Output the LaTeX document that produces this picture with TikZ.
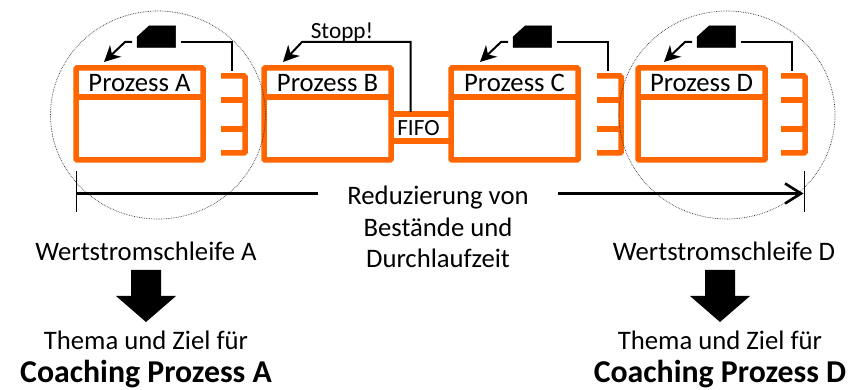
\documentclass[tikz,border=0pt]{standalone}
\usepackage{fontspec}
\setmainfont{Carlito}
\usetikzlibrary{arrows.meta, positioning, shapes.geometric}
\definecolor{cOrange}{RGB}{255,102,0}
\tikzset{
	prozess/.style ={rectangle, draw=cOrange, line width=5.5pt, rounded corners=1pt, minimum width=127pt, minimum height=92pt, fill=white},
	trenner/.style ={draw=cOrange, line width=5.5pt},
	kamm/.style    ={draw=cOrange, line width=5.5pt, rounded corners=1pt},
	karte/.style   ={fill=black, draw=black, line width=0.5pt},
	info/.style    ={line width=2pt},
	infopfeil/.style={line width=2pt, -{Stealth[length=16pt, width=16pt, inset=5pt]}},
	mass/.style    ={line width=2.2pt},
	tick/.style    ={line width=1pt},
	schleife/.style={ellipse, draw=black!80, densely dotted, line width=0.7pt, inner sep=0pt},
	blockpfeil/.style={fill=black, draw=none},
	label/.style   ={font=\fontsize{26.7}{31.5}\selectfont, inner sep=0pt, align=center},
	klein/.style   ={font=\fontsize{23.2}{26}\selectfont, inner sep=0pt},
	fett/.style    ={font=\fontsize{31.8}{36}\selectfont\bfseries, inner sep=0pt},
}
\begin{document}
\begin{tikzpicture}[x=1pt, y=-1pt]
	\useasboundingbox (0,0) rectangle (860,390);
	% Prozesse
	\foreach \n/\x/\t in {a/76/Prozess A, b/264/Prozess B, c/451/Prozess C, d/638/Prozess D} {
		\node[prozess] (box\n) at (\x+63.5,114) {};
		\draw[trenner] (\x,97) -- (\x+127,97);
		\node[label] (titel\n) at (\x+63.5,83) {\t};
	}
	% Kaemme
	\foreach \n/\x in {a/221, c/597, d/781} {
		\draw[kamm] (\x,76) -- (\x+24,76) -- (\x+24,153) -- (\x,153);
		\draw[trenner] (\x,100) -- (\x+24,100) (\x,129) -- (\x+24,129);
		\coordinate (kamm\n) at (\x+11,71);
	}
	% Kanban-Karten
	\foreach \n/\x in {a/137, c/513, d/697} {
		\draw[karte] (\x,47.5) -- (\x,37) -- (\x+12,26) -- (\x+38.5,26) -- (\x+38.5,47.5) -- cycle;
		\coordinate (ecke\n) at (\x+44,42);
		\coordinate (start\n) at (\x-5,42);
		\coordinate (zwischen\n) at (\x-12,42);
		\coordinate (ziel\n) at (\x-33,62);
		\draw[info] (kamm\n) |- (ecke\n);
		\draw[infopfeil] (start\n) -- (zwischen\n) -- (ziel\n);
	}
	% FIFO
	\node[klein] (fifo) at (418.5,128) {FIFO};
	\draw[trenner] (390,114) -- (451,114) (390,141) -- (451,141);
	\node[klein] (stopp) at (342,33) {Stopp!};
	\coordinate (fifooben) at (410.5,112);
	\coordinate (stoppknick) at (302,42);
	\coordinate (stoppziel) at (283,62);
	\draw[infopfeil] (fifooben) |- (stoppknick) -- (stoppziel);
	% Schleifen
	\node[schleife, minimum width=215pt, minimum height=208pt] (schleifea) at (158,115) {};
	\node[schleife, minimum width=216pt, minimum height=208pt] (schleifed) at (727,115) {};
	% Mass
	\node[label] (reduz) at (438,227) {Reduzierung von\\Bestände und\\Durchlaufzeit};
	\coordinate (links) at (76.5,193.5);
	\coordinate (rechts) at (803.5,193.5);
	\coordinate (mitte1) at (318,193.5);
	\coordinate (mitte2) at (558,193.5);
	\draw[mass] (links) -- (mitte1);
	\draw[mass, -{Straight Barb[length=16pt, width=20pt, line width=2.6pt]}] (mitte2) -- (rechts);
	\draw[tick] (76.5,171) -- (links) -- (76.5,212);
	\draw[tick] (804,171) -- (804,212);
	% unten
	\foreach \n/\x/\w/\p in {a/146/146/A, d/720/724/D} {
		\node[label] (schleife\n) at (\w,251) {Wertstromschleife \p};
		\fill[blockpfeil] (\x-15,270) -- (\x+15,270) -- (\x+15,296) -- (\x+30,296) -- (\x,322) -- (\x-30,296) -- (\x-15,296) -- cycle;
		\node[label] (thema\n) at (\x,340) {Thema und Ziel für};
		\node[fett] (coaching\n) at (\x,374) {Coaching Prozess \p};
	}
\end{tikzpicture}
\end{document}
